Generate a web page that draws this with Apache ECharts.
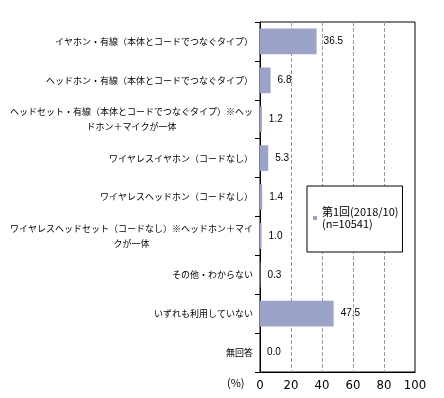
<!DOCTYPE html>
<html lang="ja">
<head>
    <meta charset="UTF-8">
    <title>イヤホン・ヘッドホン利用</title>
    <style>
        html, body {margin: 0; padding: 0; background: #fff;}
        #main {width: 444px; height: 398px;}
    </style>
</head>
<body>
<div id="main"></div>
<script src="https://cdn.jsdelivr.net/npm/echarts@6/dist/echarts.min.js"></script>
<script>
    // カテゴリ（改行は元の図の折り返し位置）
    let categories = [
        'イヤホン・有線（本体とコードでつなぐタイプ）',
        'ヘッドホン・有線（本体とコードでつなぐタイプ）',
        'ヘッドセット・有線（本体とコードでつなぐタイプ）※ヘッ\nドホン＋マイクが一体',
        'ワイヤレスイヤホン（コードなし）',
        'ワイヤレスヘッドホン（コードなし）',
        'ワイヤレスヘッドセット（コードなし）※ヘッドホン＋マイ\nクが一体',
        'その他・わからない',
        'いずれも利用していない',
        '無回答'
    ];
    let values     = [36.5, 6.8, 1.2, 5.3, 1.4, 1.0, 0.3, 47.5, 0.0];
    let seriesName = '第1回(2018/10)\n(n=10541)';
    let xTicks     = [0, 20, 40, 60, 80, 100];

    let jp    = '"Noto Sans CJK JP", sans-serif';
    let chart = echarts.init(document.getElementById('main'));
    chart.setOption({
        animation: false,
        backgroundColor: '#fff',
        grid: {
            left: 260, right: 29, top: 22, bottom: 26,
            show: true, borderColor: '#000', borderWidth: 1
        },
        legend: {
            left: 307, top: 186,
            orient: 'vertical',
            padding: [14, 4, 16, 6],
            borderColor: '#000', borderWidth: 1,
            backgroundColor: '#fff',
            icon: 'rect', itemWidth: 4, itemHeight: 4,
            textStyle: {
                fontFamily: jp, fontSize: 11, color: '#000',
                lineHeight: 12, padding: [12, 0, 0, 0]
            },
            data: [seriesName]
        },
        xAxis: {
            type: 'value',
            min: xTicks[0], max: xTicks[xTicks.length - 1], interval: 20,
            axisLine: {show: true, lineStyle: {color: '#000'}},
            axisTick: {show: false},
            axisLabel: {
                margin: 7, color: '#000', fontSize: 13,
                fontFamily: '"Liberation Sans Narrow", "DejaVu Sans Condensed", sans-serif'
            },
            splitLine: {
                show: true, showMinLine: false, showMaxLine: false,
                lineStyle: {color: '#999', type: 'dashed', width: 1}
            }
        },
        yAxis: {
            type: 'category',
            inverse: true,
            data: categories,
            axisLine: {show: true, lineStyle: {color: '#000'}},
            axisTick: {show: true, length: 5, lineStyle: {color: '#000'}},
            axisLabel: {
                margin: 7, color: '#000', fontFamily: jp, fontSize: 9,
                formatter: function (v) {
                    return v.split('\n').map(function (s) {
                        return '{c|' + s + '}';
                    }).join('\n');
                },
                rich: {
                    c: {align: 'center', fontFamily: jp, fontSize: 9, lineHeight: 15, color: '#000'}
                }
            }
        },
        series: [{
            name: seriesName,
            type: 'bar',
            data: values,
            barWidth: '66%',
            itemStyle: {color: '#9BA3C8'},
            label: {
                show: true, position: 'right', distance: 7,
                color: '#000', fontSize: 10,
                fontFamily: '"Liberation Sans", Arial, sans-serif',
                formatter: function (p) {
                    return p.value.toFixed(1);
                }
            }
        }],
        graphic: [{
            type: 'text', left: 227, top: 377,
            style: {text: '(%)', fontFamily: jp, fontSize: 11, fill: '#000'}
        }]
    });
</script>
</body>
</html>
